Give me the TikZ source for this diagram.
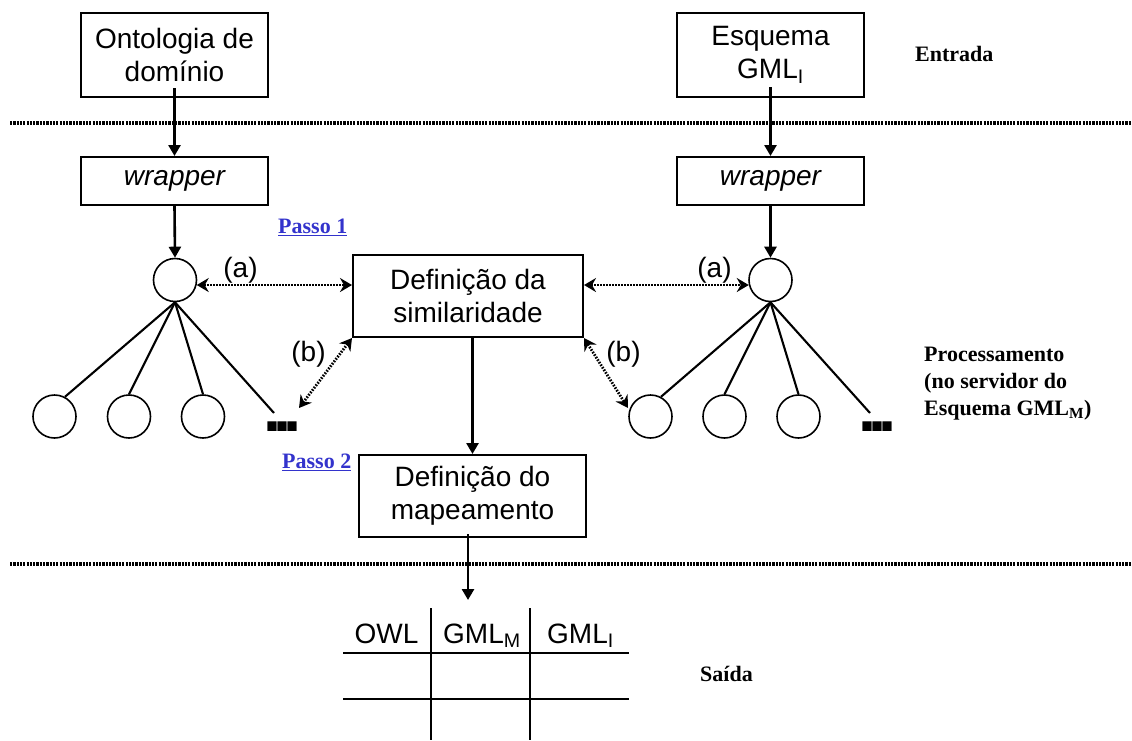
\documentclass[tikz,border=0pt]{standalone}
\usepackage{fontspec}
\setmainfont{Liberation Sans}
\newfontfamily\tnr{Liberation Serif}
\usetikzlibrary{arrows.meta,calc}
\definecolor{passoblue}{RGB}{51,51,204}
\newcommand\myul[1]{\setbox0\hbox{#1}\rlap{\rule[-3pt]{\wd0}{1.5pt}}\box0}
\tikzset{
  box/.style={draw, line width=2pt, inner sep=0pt, align=center,
    font=\fontsize{28}{33}\selectfont},
  lbl/.style={inner sep=0pt, font=\fontsize{28}{33}\selectfont},
  arr/.style={line width=2.6pt, -{Triangle[length=11pt,width=12pt]}},
  dotarr/.style={line width=2.8pt, dash pattern=on 1.6pt off 1.4pt,
    {Stealth[length=12pt,width=14pt,inset=4pt]}-{Stealth[length=12pt,width=14pt,inset=4pt]}},
  sep/.style={line width=3.2pt, dash pattern=on 2.2pt off 1.1pt},
  tree/.style={line width=2.1pt},
  vert/.style={draw, circle, line width=1.6pt, minimum size=43pt, inner sep=0pt},
  side/.style={inner sep=0pt, align=left, font=\tnr\bfseries\fontsize{22}{27}\selectfont},
  passo/.style={inner sep=0pt, anchor=base west, text=passoblue,
    font=\tnr\bfseries\fontsize{22}{27}\selectfont},
  dots/.style={inner sep=0pt, anchor=base west, font=\bfseries\fontsize{65}{65}\selectfont},
  grid/.style={line width=2pt}
}
\begin{document}
\begin{tikzpicture}[x=1pt,y=-1pt]
\useasboundingbox (0,0) rectangle (1132,740);

% separators
\draw[sep] (10,123) -- (1132,123);
\draw[sep] (10,564) -- (1132,564);

% input boxes
\node[box, minimum width=187pt, minimum height=84pt] (ont) at (174.5,55) {Ontologia de\\domínio};
\node[box, minimum width=187pt, minimum height=84pt] (esq) at (770.5,55) {Esquema\\GML\textsubscript{I}};
\node[side, anchor=base west] (entrada) at (915,61) {Entrada};

% wrappers
\node[box, minimum width=187pt, minimum height=48pt] (wrapL) at (174.5,181) {\itshape wrapper};
\node[box, minimum width=187pt, minimum height=48pt] (wrapR) at (770.5,181) {\itshape wrapper};

\draw[arr] ($(ont.south)+(0,-10)$) -- (wrapL.north);
\draw[arr] ($(esq.south)+(0,-11)$) -- (wrapR.north);

% tree roots
\node[vert] (cL) at (175,280) {};
\node[vert] (cR) at (770.5,280) {};
\draw[arr] (wrapL.south) -- (cL.north);
\draw[arr] (wrapR.south) -- (cR.north);

% children left
\node[vert] (l1) at (54.5,416.5) {};
\node[vert] (l2) at (129,416.5) {};
\node[vert] (l3) at (203,416.5) {};
\node[dots] (ldots) at (263.5,431) {.\kern-8pt.\kern-8pt.};
\coordinate (lend) at (274,413);
\draw[tree] (cL.south) -- (l1.62);
\draw[tree] (cL.south) -- (l2.north);
\draw[tree] (cL.south) -- (l3.north);
\draw[tree] (cL.south) -- (lend);

% children right
\node[vert] (r1) at (650.5,416.5) {};
\node[vert] (r2) at (724.5,416.5) {};
\node[vert] (r3) at (798.5,416.5) {};
\node[dots] (rdots) at (858.5,431) {.\kern-8pt.\kern-8pt.};
\coordinate (rend) at (870,413);
\draw[tree] (cR.south) -- (r1.62);
\draw[tree] (cR.south) -- (r2.north);
\draw[tree] (cR.south) -- (r3.north);
\draw[tree] (cR.south) -- (rend);

% similarity box
\node[box, minimum width=230pt, minimum height=82pt] (sim) at (468,296) {Definição da\\similaridade};
\node[passo] (p1) at (278,233) {\myul{Passo 1}};

\node[lbl] (aL) at (240.5,270) {(a)};
\node[lbl] (aR) at (714.5,270) {(a)};
\node[lbl] (bL) at (308.5,354) {(b)};
\node[lbl] (bR) at (623.5,354) {(b)};

\draw[dotarr] (cL.-13) -- (cL.-13 -| sim.west);
\draw[dotarr] (sim.east |- cR.193) -- (cR.193);
\coordinate (bLend) at (299,408);
\coordinate (bRend) at (628,408);
\draw[dotarr] (sim.south west) -- (bLend);
\draw[dotarr] (sim.south east) -- (bRend);

\node[side, anchor=north west] (proc) at (924,347) {Processamento\\(no servidor do\\Esquema GML\textsubscript{M})};

% mapping box
\node[box, minimum width=227pt, minimum height=82pt] (map) at (472.5,496) {Definição do\\mapeamento};
\node[passo] (p2) at (282,468) {\myul{Passo 2}};
\draw[arr] (map.north |- sim.south) -- (map.north);

% table
\coordinate (tbltop) at (468,600);
\draw[arr] ($(map.south -| tbltop)+(0,-4)$) -- (tbltop);
\draw[grid] (431,608) -- (431,740);
\draw[grid] (530,608) -- (530,740);
\draw[grid] (343,653) -- (629,653);
\draw[grid] (343,699) -- (629,699);
\node[lbl, anchor=base] (owl) at (386.5,643) {OWL};
\node[lbl, anchor=base west] (gmlm) at (443,643) {GML\textsubscript{M}};
\node[lbl, anchor=base west] (gmli) at (547,643) {GML\textsubscript{I}};

\node[side, anchor=base west] (saida) at (700,681) {Saída};
\end{tikzpicture}
\end{document}
